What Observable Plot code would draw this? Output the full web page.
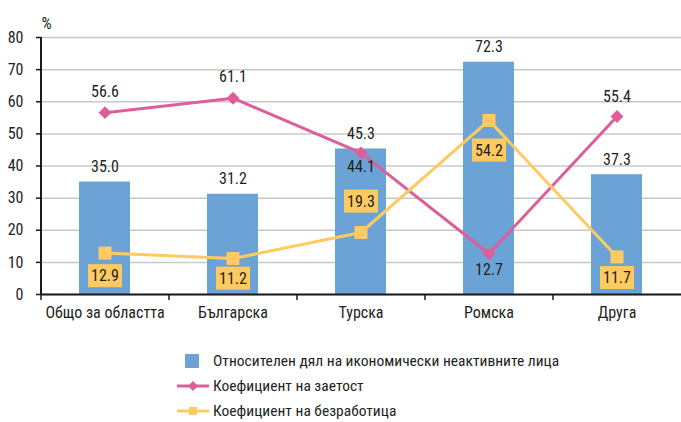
<!DOCTYPE html>
<html><head><meta charset="utf-8">
<script src="https://cdn.jsdelivr.net/npm/d3@7"></script>
<script src="https://cdn.jsdelivr.net/npm/@observablehq/plot@0.6"></script>
<style>
body{margin:0;background:#fff;font-family:"Liberation Sans Narrow","Roboto Condensed","DejaVu Sans Condensed",sans-serif;}
#chart{position:relative;width:681px;height:422px;overflow:hidden}
.legend{position:absolute;left:176px;top:348px;font-size:15.5px;color:#231f20}
.legend .row{height:25px;display:flex;align-items:center;white-space:nowrap;line-height:18px}
.legend svg{width:34px;height:20px;margin-right:3px;flex:none}
</style></head><body><div id="chart"></div>
<script>
// ---- data ----
const categories = ["Общо за областта", "Българска", "Турска", "Ромска", "Друга"];
const inactiveShare = [35.0, 31.2, 45.3, 72.3, 37.3];
const employmentRate = [56.6, 61.1, 44.1, 12.7, 55.4];
const unemploymentRate = [12.9, 11.2, 19.3, 54.2, 11.7];
const yTicks = [0, 10, 20, 30, 40, 50, 60, 70, 80];
const yUnit = "%";
const seriesNames = ["Относителен дял на икономически неактивните лица", "Коефициент на заетост", "Коефициент на безработица"];

// ---- styling / label placement ----
const C = {bar: "#6ca3d6", emp: "#dd5e9a", unemp: "#ffca5f", text: "#231f20", grid: "#c8c8c8"};
const empLabelDy = [-21, -21, 14, 16, -20];
const unempLabelDy = [23, 20, -31, 30, 21];
const font = '"Liberation Sans Narrow","Roboto Condensed","DejaVu Sans Condensed",sans-serif';
const FS = 16;

const rows = categories.map((c, i) => ({category: c, inactive: inactiveShare[i], emp: employmentRate[i], unemp: unemploymentRate[i], i}));

function labelMarks(field, dyArr, opts) {
  const groups = d3.group(rows, d => dyArr[d.i]);
  return [...groups].map(([dy, data]) => Plot.text(data, {x: "category", y: field, text: d => d[field].toFixed(1), dy, fontSize: FS, fill: C.text, ...opts}));
}

const W = 681, ML = 41, MR = 0;
const step = (W - ML - MR) / categories.length;

const chart = Plot.plot({
  width: W, height: 325,
  marginLeft: ML, marginRight: MR, marginTop: 37, marginBottom: 31,
  style: {fontFamily: font, color: C.text, background: "#fff"},
  x: {domain: categories, paddingInner: 0.6, paddingOuter: 0.3, label: null},
  y: {domain: [0, 80], label: null},
  marks: [
    Plot.gridY(yTicks, {stroke: C.grid, strokeOpacity: 1, strokeWidth: 1.5}),
    Plot.barY(rows, {x: "category", y: "inactive", fill: C.bar}),
    Plot.ruleY([0], {stroke: "#1a1a1a", strokeWidth: 2}),
    Plot.ruleX([categories[0]], {dx: -step / 2, stroke: "#1a1a1a", strokeWidth: 2}),
    Plot.ruleX(categories, {x: d => d, y1: 0, y2: 0, dx: -step / 2, insetBottom: -6, stroke: "#1a1a1a", strokeWidth: 1.5}),
    Plot.axisY(yTicks, {tickSize: 5, tickPadding: 13, fontSize: FS, stroke: "#1a1a1a", strokeWidth: 1.5, label: null}),
    Plot.axisX({tickSize: 0, tickPadding: 12, fontSize: FS, label: null}),
    Plot.text([yUnit], {frameAnchor: "top-left", dx: 5, dy: -20, textAnchor: "middle", fontSize: FS, fill: C.text}),
    Plot.line(rows, {x: "category", y: "emp", stroke: C.emp, strokeWidth: 3}),
    Plot.dot(rows, {x: "category", y: "emp", symbol: "diamond2", r: 5.8, fill: C.emp}),
    Plot.line(rows, {x: "category", y: "unemp", stroke: C.unemp, strokeWidth: 3}),
    Plot.dot(rows, {x: "category", y: "unemp", symbol: "square", r: 7.3, fill: C.unemp}),
    Plot.text(rows, {x: "category", y: "inactive", text: d => d.inactive.toFixed(1), dy: -15, fontSize: FS, fill: C.text}),
    ...labelMarks("emp", empLabelDy, {}),
    ...labelMarks("unemp", unempLabelDy, {ariaDescription: "unemp-label"})
  ]
});

const host = document.getElementById("chart");
host.appendChild(chart);

// yellow boxes behind unemployment labels
chart.querySelectorAll('[aria-description="unemp-label"]').forEach(el => {
  const texts = el.tagName.toLowerCase() === "text" ? [el] : [...el.querySelectorAll("text")];
  texts.forEach(t => {
    const b = t.getBBox();
    const r = document.createElementNS("http://www.w3.org/2000/svg", "rect");
    r.setAttribute("x", b.x - 3);
    r.setAttribute("y", b.y - 2);
    r.setAttribute("width", b.width + 6);
    r.setAttribute("height", b.height + 4);
    r.setAttribute("fill", C.unemp);
    const tr = t.getAttribute("transform");
    if (tr) r.setAttribute("transform", tr);
    t.parentNode.insertBefore(r, t);
  });
});

// legend
const legend = document.createElement("div");
legend.className = "legend";
const swatches = [
  '<rect x="9" y="3" width="14" height="14" fill="' + C.bar + '"/>',
  '<line x1="1" x2="33" y1="10" y2="10" stroke="' + C.emp + '" stroke-width="3"/><path d="M17 5 L22 10 L17 15 L12 10Z" fill="' + C.emp + '"/>',
  '<line x1="1" x2="33" y1="10" y2="10" stroke="' + C.unemp + '" stroke-width="3"/><rect x="13" y="6" width="8" height="8" fill="' + C.unemp + '"/>'
];
seriesNames.forEach((name, i) => {
  const row = document.createElement("div");
  row.className = "row";
  row.innerHTML = '<svg viewBox="0 0 34 20">' + swatches[i] + '</svg>';
  const span = document.createElement("span");
  span.textContent = name;
  row.appendChild(span);
  legend.appendChild(row);
});
host.appendChild(legend);
</script>
</body></html>
